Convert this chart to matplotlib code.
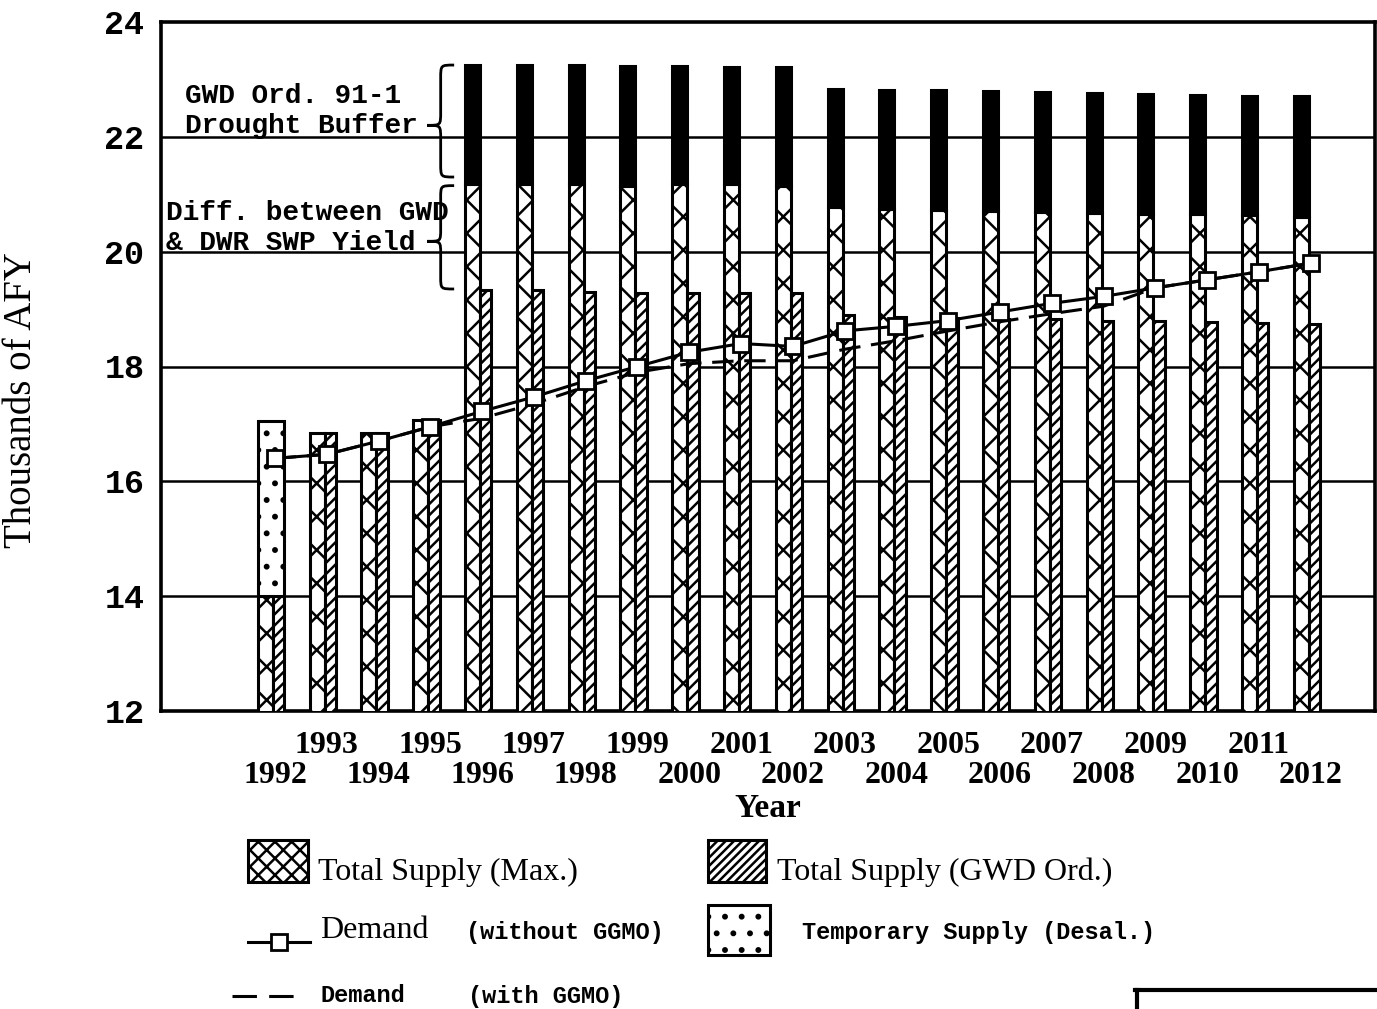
import numpy as np
import matplotlib.pyplot as plt
from matplotlib.patches import Rectangle, PathPatch
from matplotlib.path import Path
from matplotlib.lines import Line2D

# data (thousands of AFY)
years = np.arange(1992, 2013)
supply_max = [14.0, 16.85, 16.85, 17.07, 21.17, 21.17, 21.17, 21.14, 21.17, 21.17, 21.14,
              20.78, 20.74, 20.73, 20.71, 20.69, 20.68, 20.66, 20.65, 20.63, 20.6]
supply_gwd = [14.0, 16.85, 16.85, 17.07, 19.34, 19.34, 19.3, 19.28, 19.28, 19.28, 19.28,
              18.9, 18.87, 18.85, 18.83, 18.82, 18.8, 18.79, 18.77, 18.76, 18.74]
buffer_years = np.arange(1996, 2013)
buffer_top = [23.25, 23.25, 23.25, 23.23, 23.23, 23.22, 23.21, 22.84, 22.82, 22.81,
              22.8, 22.78, 22.76, 22.74, 22.73, 22.71, 22.71]
desal_year = 1992
desal_range = [14.0, 17.05]
demand_no_ggmo = [16.4, 16.47, 16.7, 16.95, 17.22, 17.47, 17.75, 18.0, 18.25, 18.4, 18.35,
                  18.62, 18.7, 18.8, 18.95, 19.1, 19.22, 19.37, 19.51, 19.65, 19.8]
demand_ggmo = [16.4, 16.47, 16.7, 16.95, 17.1, 17.35, 17.65, 17.9, 18.05, 18.1, 18.1,
               18.3, 18.45, 18.62, 18.78, 18.92, 19.05, 19.37, 19.51, 19.65, 19.8]

plt.rcParams['hatch.linewidth'] = 1.8

W, H = 1377, 1009
fig = plt.figure(figsize=(W / 100, H / 100), dpi=100)
ax = fig.add_axes([161 / W, 1 - 711 / H, (1375 - 161) / W, (711 - 22) / H])

serif = 'Liberation Serif'
mono = 'Liberation Mono'

# grid lines behind the bars
for yv in [14, 16, 18, 20, 22]:
    ax.axhline(yv, color='black', lw=1.8, zorder=1)

# total supply (max) and total supply (GWD ord.) bars
ax.bar(years - 0.33, supply_max, width=0.29, bottom=0, align='edge',
       color='white', edgecolor='black', hatch='x', lw=2.2, zorder=3)
ax.bar(years - 0.04, supply_gwd, width=0.22, bottom=0, align='edge',
       color='white', edgecolor='black', hatch='///', lw=2.2, zorder=3)

# drought buffer (black tops)
max_arr = np.array(supply_max)[4:]
ax.bar(buffer_years - 0.33, np.array(buffer_top) - max_arr, width=0.29, bottom=max_arr,
       align='edge', color='black', edgecolor='black', lw=2.2, zorder=3)

# temporary desal supply
ax.bar([desal_year - 0.33], [desal_range[1] - desal_range[0]], width=0.51,
       bottom=desal_range[0], align='edge', color='white', edgecolor='black',
       hatch='.', lw=2.2, zorder=3)

# demand lines
ax.plot(years, demand_ggmo, color='black', lw=2.2, ls=(0, (7, 3.5)), zorder=4)
ax.plot(years, demand_no_ggmo, color='black', lw=2.2, marker='s', ms=11,
        mfc='white', mec='black', mew=2, zorder=5)


def brace(ax, x, y0, y1, ytip, w):
    # curly brace "{" opening to the right
    d = (y1 - y0) * 0.12
    verts = [(x + w, y1), (x, y1), (x, y1), (x, y1 - d),
             (x, ytip + d),
             (x, ytip), (x, ytip), (x - w, ytip),
             (x, ytip), (x, ytip), (x, ytip - d),
             (x, y0 + d),
             (x, y0), (x, y0), (x + w, y0)]
    codes = [Path.MOVETO, Path.CURVE4, Path.CURVE4, Path.CURVE4,
             Path.LINETO,
             Path.CURVE4, Path.CURVE4, Path.CURVE4,
             Path.CURVE4, Path.CURVE4, Path.CURVE4,
             Path.LINETO,
             Path.CURVE4, Path.CURVE4, Path.CURVE4]
    ax.add_patch(PathPatch(Path(verts, codes), fill=False, lw=2, color='black', zorder=6))


brace(ax, 1995.2, 21.3, 23.25, 22.2, 0.26)
brace(ax, 1995.2, 19.35, 21.15, 20.18, 0.26)

ax.text(1990.26, 22.45, 'GWD Ord. 91-1\nDrought Buffer', family=mono, weight='bold',
        fontsize=20, ha='left', va='center', linespacing=1.2, zorder=6)
ax.text(1989.9, 20.42, 'Diff. between GWD\n& DWR SWP Yield', family=mono, weight='bold',
        fontsize=20, ha='left', va='center', linespacing=1.2, zorder=6)

ax.set_xlim(1989.80, 2013.24)
ax.set_ylim(12, 24)
ax.set_yticks([12, 14, 16, 18, 20, 22, 24])
ax.set_yticklabels(['12', '14', '16', '18', '20', '22', '24'], family=mono,
                   weight='bold', fontsize=24)
ax.set_xticks([])
ax.tick_params(length=0)
ax.tick_params(axis='y', pad=12)
for s in ax.spines.values():
    s.set_linewidth(2.6)

# year labels in two staggered rows
xt = ax.get_xaxis_transform()
for y in years:
    row = -0.050 if y % 2 else -0.094
    ax.text(y, row, str(y), transform=xt, family=serif, weight='bold', fontsize=23,
            ha='center', va='center')
ax.text(0.5, -0.142, 'Year', transform=ax.transAxes, family=serif, weight='bold',
        fontsize=24, ha='center', va='center')


# legend drawn in figure pixels
def fx(px):
    return px / W


def fy(py):
    return 1 - py / H


fig.text(fx(22), fy(400), 'Thousands of AFY', family=serif, fontsize=28, rotation=90,
         ha='center', va='center')


def legend_box(x0, y0, x1, y1, hatch):
    fig.patches.append(Rectangle((fx(x0), fy(y1)), fx(x1) - fx(x0), fy(y0) - fy(y1),
                                 transform=fig.transFigure, facecolor='white',
                                 edgecolor='black', hatch=hatch, lw=2.2))


legend_box(248, 840, 308, 882, 'xx')
fig.text(fx(318), fy(872), 'Total Supply (Max.)', family=serif, fontsize=23, va='center')
legend_box(708, 840, 766, 882, '////')
fig.text(fx(777), fy(872), 'Total Supply (GWD Ord.)', family=serif, fontsize=23, va='center')

fig.lines.append(Line2D([fx(248), fx(310)], [fy(942), fy(942)], transform=fig.transFigure,
                        color='black', lw=2.2))
fig.lines.append(Line2D([fx(279)], [fy(942)], transform=fig.transFigure, marker='s',
                        ms=11, mfc='white', mec='black', mew=2, color='black'))
fig.text(fx(320), fy(930), 'Demand', family=serif, fontsize=23, va='center')
fig.text(fx(466), fy(933), '(without GGMO)', family=mono, weight='bold', fontsize=17,
         va='center')
legend_box(708, 905, 770, 955, '.')
fig.text(fx(802), fy(933), 'Temporary Supply (Desal.)', family=mono, weight='bold',
         fontsize=17, va='center')

fig.lines.append(Line2D([fx(232), fx(300)], [fy(996), fy(996)], transform=fig.transFigure,
                        color='black', lw=2.2, ls=(0, (8, 4))))
fig.text(fx(320), fy(996), 'Demand', family=mono, weight='bold', fontsize=17, va='center')
fig.text(fx(468), fy(996), '(with GGMO)', family=mono, weight='bold', fontsize=17,
         va='center')

# fragment of a box at the bottom right edge of the scan
fig.lines.append(Line2D([fx(1135), fx(1377), ], [fy(990), fy(990)],
                        transform=fig.transFigure, color='black', lw=3))
fig.lines.append(Line2D([fx(1137), fx(1137)], [fy(990), fy(1009)],
                        transform=fig.transFigure, color='black', lw=3))

fig.savefig('out.png', dpi=100)
